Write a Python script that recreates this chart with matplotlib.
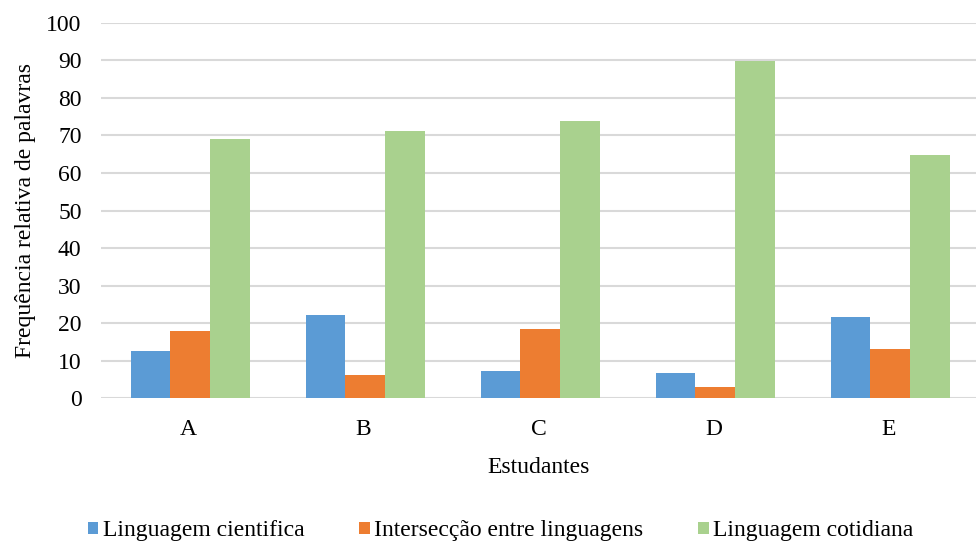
import numpy as np
import matplotlib.pyplot as plt

students = ['A', 'B', 'C', 'D', 'E']
cientifica = [12.5, 22.1, 7.2, 6.7, 21.6]
interseccao = [17.9, 6.1, 18.4, 2.9, 13.1]
cotidiana = [69.0, 71.2, 73.9, 89.9, 64.8]

series = [
    ('Linguagem cientifica', cientifica, '#5B9BD5'),
    ('Intersecção entre linguagens', interseccao, '#ED7D31'),
    ('Linguagem cotidiana', cotidiana, '#A9D18E'),
]

plt.rcParams['font.family'] = ['Liberation Serif', 'DejaVu Serif']
fs = 17

fig = plt.figure(figsize=(9.76, 5.41), dpi=100)
ax = fig.add_axes([0.1035, 0.2643, 0.8965, 0.6932])

x = np.arange(len(students))
w = 0.226
for i, (name, vals, col) in enumerate(series):
    ax.bar(x + 0.01 + (i - 1) * w, vals, w, color=col, label=name, zorder=3)

ax.set_xlim(-0.5, 4.5)
ax.set_ylim(0, 100)
ax.set_yticks(np.arange(0, 101, 10))
ax.set_xticks(x)
ax.set_xticklabels(students)
ax.grid(axis='y', color='#d9d9d9', linewidth=1.5, zorder=0)
for s in ax.spines.values():
    s.set_visible(False)
ax.tick_params(length=0, labelsize=fs)
ax.tick_params(axis='x', pad=15)
ax.tick_params(axis='y', pad=14)

ax.set_xlabel('Estudantes', fontsize=fs, labelpad=12)
ax.set_ylabel('Frequência relativa de palavras', fontsize=fs, labelpad=7.5)

fig.legend(loc='lower center', bbox_to_anchor=(0.513, -0.04), ncol=3, frameon=False,
           fontsize=fs, handlelength=0.45, handleheight=0.45, handletextpad=0.2,
           columnspacing=2.3)

fig.savefig('out.png', dpi=100)
